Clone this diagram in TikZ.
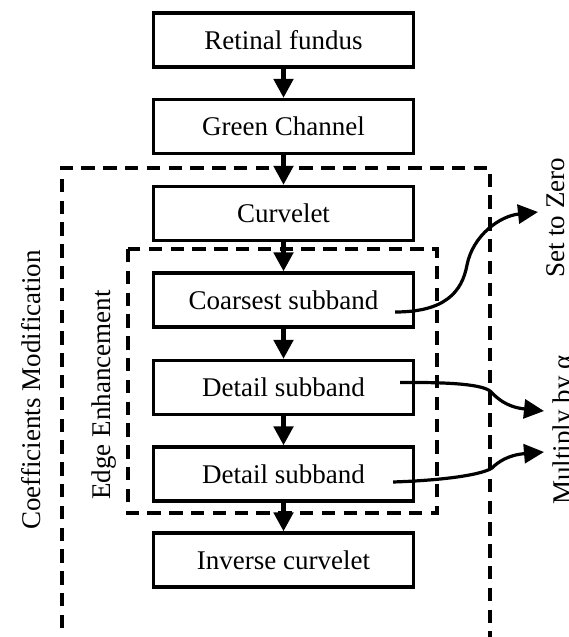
\documentclass[tikz,border=0pt]{standalone}
\usepackage{fontspec}
\setmainfont{Liberation Serif}
\usetikzlibrary{arrows.meta}
\usetikzlibrary{calc}

\tikzset{
  stage/.style={draw, line width=1.6pt, minimum width=130pt, minimum height=27pt, inner sep=0pt},
  flow/.style={line width=2.8pt, -{Triangle[length=9.5pt,width=9.5pt]}},
  sweep/.style={line width=1.6pt, -{Triangle[length=10pt,width=9.5pt]}},
  frame/.style={line width=1.6pt, dash pattern=on 6.7pt off 4.2pt},
  sidelabel/.style={rotate=90, inner sep=0pt},
}

\begin{document}
\begin{tikzpicture}[x=0.5pt, y=-0.5pt, font=\fontsize{13.5}{16}\selectfont]
    \useasboundingbox (0,0) rectangle (568,637);

    \node[stage] (fundus) at (283.5, 40) {Retinal fundus};
    \node[stage] (green) at (283.5, 126.5) {Green Channel};
    \node[stage] (curvelet) at (283.5, 213.5) {Curvelet};
    \node[stage] (coarse) at (283.5, 300) {Coarsest subband};
    \node[stage] (detailA) at (283.5, 387.5) {Detail subband};
    \node[stage] (detailB) at (283.5, 474) {Detail subband};
    \node[stage] (inverse) at (283.5, 560) {Inverse curvelet};

    % frames
    \draw[frame] (62, 650)--(62, 168)--(490, 168)--(490, 650);
    \draw[frame] (128, 249) rectangle (437, 513);
    \node[sidelabel] (coeff) at (31, 390) {Coefficients Modification};
    \node[sidelabel] (edge) at (104, 395) {Edge Enhancement};

    \draw[flow] (fundus.south)--(green.north);
    \draw[flow] (green.south)--(curvelet.north);
    \draw[flow] (curvelet.south)--(coarse.north);
    \draw[flow] (coarse.south)--(detailA.north);
    \draw[flow] (detailA.south)--(detailB.north);
    \draw[flow] (detailB.south)--(inverse.north);

    % outputs on the right
    \node[sidelabel, anchor=north] (zero) at (546, 218) {Set to Zero};
    \node[sidelabel, anchor=north] (alpha) at (552, 430) {Multiply by α};

    \draw[sweep] ($(coarse.east)+(-20,12)$) .. controls (445, 312) and (462, 292) .. (467, 265)
        .. controls (473, 235) and (500, 216) .. ($(zero.north)+(-8,-6)$);
    \draw[sweep] ($(detailA.east)+(-15,-5)$) .. controls (455, 382) and (482, 385) .. (490, 391)
        .. controls (497, 398) and (506, 407) .. ($(alpha.north)+(-8,-19)$);
    \draw[sweep] ($(detailB.east)+(-22,8)$) .. controls (450, 480) and (483, 474) .. (492, 468)
        .. controls (498, 462) and (508, 455) .. ($(alpha.north)+(-8,22)$);
\end{tikzpicture}
\end{document}
